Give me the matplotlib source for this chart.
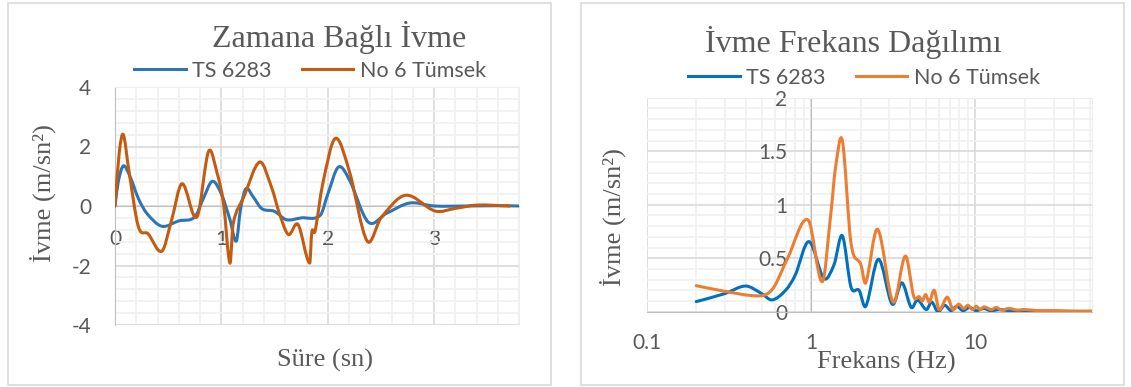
import numpy as np
import matplotlib
matplotlib.use("Agg")
import matplotlib.pyplot as plt
from matplotlib.path import Path
from matplotlib.patches import PathPatch, Rectangle
from matplotlib.lines import Line2D
from matplotlib.ticker import MultipleLocator, FixedLocator, FuncFormatter, LogLocator, NullFormatter

# --- Zamana bağlı ivme (s, m/sn²) ---
t_ts = [0.0, 0.03, 0.078, 0.14, 0.22, 0.3, 0.44, 0.6, 0.75, 0.83, 0.915, 1.0, 1.08, 1.14,
        1.18, 1.23, 1.3, 1.38, 1.5, 1.61, 1.75, 1.93, 2.0, 2.10, 2.2, 2.38, 2.55, 2.77,
        3.0, 3.3, 3.6, 3.8]
a_ts = [0.0, 0.8, 1.35, 1.0, 0.25, -0.25, -0.68, -0.5, -0.37, 0.25, 0.83, 0.4, -0.45, -1.18,
        -0.1, 0.58, 0.3, -0.09, -0.18, -0.46, -0.4, -0.31, 0.4, 1.31, 0.9, -0.54, -0.25, 0.1,
        0.0, 0.0, 0.01, 0.0]

t_no6 = [0.0, 0.04, 0.078, 0.13, 0.22, 0.31, 0.44, 0.53, 0.63, 0.77, 0.88, 0.96, 1.02, 1.08,
         1.11, 1.21, 1.36, 1.47, 1.55, 1.63, 1.72, 1.83, 1.85, 1.88, 1.95, 2.07, 2.2, 2.37,
         2.5, 2.73, 3.01, 3.2, 3.4, 3.71]
a_no6 = [0.0, 1.8, 2.4, 1.2, -0.7, -0.93, -1.52, -0.5, 0.75, -0.37, 1.84, 1.1, 0.08, -1.92,
         -0.6, 0.3, 1.48, 0.64, -0.3, -0.96, -0.62, -1.92, -0.87, -0.85, 0.7, 2.27, 1.2, -1.18,
         -0.4, 0.36, -0.17, -0.08, 0.03, 0.0]

# --- ivme frekans dağılımı (Hz, m/sn²) ---
f_ts = [0.2, 0.3, 0.4, 0.5, 0.58, 0.7, 0.8, 0.97, 1.2, 1.38, 1.55, 1.75, 1.96, 2.15, 2.57,
        3.12, 3.57, 4.07, 4.44, 5.03, 5.42, 5.91, 6.5, 7.1, 7.7, 8.4, 9.2, 10.1, 11.2, 12.4,
        14, 16, 19, 23, 28, 35, 51]
s_ts = [0.094, 0.17, 0.24, 0.17, 0.11, 0.2, 0.34, 0.655, 0.31, 0.44, 0.71, 0.23, 0.2, 0.05,
        0.49, 0.07, 0.27, 0.04, 0.11, 0.02, 0.09, 0.0, 0.06, 0.01, 0.05, 0.01, 0.04, 0.01,
        0.03, 0.01, 0.02, 0.01, 0.01, 0.005, 0.005, 0.003, 0.003]

f_no6 = [0.2, 0.3, 0.44, 0.53, 0.6, 0.72, 0.96, 1.17, 1.32, 1.41, 1.55, 1.75, 2.01, 2.15,
         2.54, 3.16, 3.75, 4.22, 4.55, 4.75, 4.98, 5.24, 5.62, 6.01, 6.74, 7.3, 7.9, 8.5, 9.0,
         9.6, 10.1, 10.7, 11.3, 12.5, 13.4, 14.4, 16, 18, 20, 24, 30, 40, 51]
s_no6 = [0.243, 0.19, 0.15, 0.16, 0.24, 0.5, 0.857, 0.28, 0.92, 1.35, 1.6, 0.64, 0.44, 0.27,
         0.77, 0.09, 0.52, 0.14, 0.14, 0.1, 0.16, 0.09, 0.2, 0.02, 0.135, 0.02, 0.07, 0.03,
         0.06, 0.02, 0.05, 0.02, 0.045, 0.02, 0.04, 0.015, 0.03, 0.015, 0.02, 0.01, 0.01,
         0.005, 0.005]

series_names = ["TS 6283", "No 6 Tümsek"]

SERIF = "Liberation Serif"
SANS = "Lato"
GRAY_TXT = "#595959"
W, H = 1131, 387


def smooth_path(x, y, logx=False):
    """Excel benzeri yumuşak çizgi: noktalardan geçen kübik Bezier."""
    x = np.asarray(x, float)
    y = np.asarray(y, float)
    u = np.log10(x) if logx else x
    n = len(u)
    m = np.zeros(n)
    for i in range(n):
        a, b = max(i - 1, 0), min(i + 1, n - 1)
        m[i] = (y[b] - y[a]) / (u[b] - u[a])
    verts = [(u[0], y[0])]
    codes = [Path.MOVETO]
    for i in range(n - 1):
        h = u[i + 1] - u[i]
        verts += [(u[i] + h / 3, y[i] + m[i] * h / 3),
                  (u[i + 1] - h / 3, y[i + 1] - m[i + 1] * h / 3),
                  (u[i + 1], y[i + 1])]
        codes += [Path.CURVE4] * 3
    verts = np.array(verts)
    if logx:
        verts[:, 0] = 10 ** verts[:, 0]
    return Path(verts, codes)


def add_line(ax, x, y, color, logx=False):
    ax.add_patch(PathPatch(smooth_path(x, y, logx), fill=False, edgecolor=color, lw=2.2,
                           capstyle="round", joinstyle="round", zorder=3))


def px(x, y):
    return x / W, 1 - y / H


fig = plt.figure(figsize=(W / 100, H / 100), dpi=100)

# chart borders
for x0, x1 in [(8, 551), (581, 1124)]:
    fig.patches.append(Rectangle(px(x0, 385), (x1 - x0) / W, 382 / H, transform=fig.transFigure,
                                 fill=False, edgecolor="#D9D9D9", lw=1.2))

# ---------------- sol grafik ----------------
c_blue, c_orange = "#2E75B6", "#C55A11"
ax1 = fig.add_axes([115 / W, 1 - 325 / H, 404.3 / W, 238 / H])
ax1.set_xlim(0, 3.8)
ax1.set_ylim(-4, 4)
ax1.xaxis.set_major_locator(FixedLocator([0, 1, 2, 3]))
ax1.xaxis.set_minor_locator(MultipleLocator(0.2))
ax1.yaxis.set_major_locator(MultipleLocator(2))
ax1.yaxis.set_minor_locator(MultipleLocator(0.4))
ax1.grid(which="minor", color="#F0F0F0", lw=1.2)
ax1.grid(which="major", color="#D9D9D9", lw=1.2)
ax1.set_axisbelow(True)
for s in ["top", "right"]:
    ax1.spines[s].set_color("#EDEDED")
ax1.spines["left"].set_color("#BFBFBF")
ax1.spines["bottom"].set_position(("data", 0))
ax1.spines["bottom"].set_color("#BFBFBF")
ax1.tick_params(which="both", length=0)
ax1.tick_params(axis="y", pad=17, labelsize=15, labelcolor=GRAY_TXT)
ax1.tick_params(axis="x", pad=16.5, labelsize=15, labelcolor=GRAY_TXT)
for lab in ax1.get_xticklabels() + ax1.get_yticklabels():
    lab.set_family(SANS)
ax1.yaxis.set_major_formatter(FuncFormatter(lambda v, p: f"{v:g}"))
ax1.xaxis.set_major_formatter(FuncFormatter(lambda v, p: f"{v:g}"))

add_line(ax1, t_ts, a_ts, c_blue)
add_line(ax1, t_no6, a_no6, c_orange)

fig.text(*px(339, 46.7), "Zamana Bağlı İvme", family=SERIF, size=23, color=GRAY_TXT,
         ha="center", va="baseline")
fig.text(*px(325, 360), "Süre (sn)", family=SERIF, size=19, color=GRAY_TXT, ha="center", va="center")
fig.text(*px(43, 193), "İvme (m/sn²)", family=SERIF, size=19, color=GRAY_TXT, ha="center",
         va="center", rotation=90)
h1 = [Line2D([], [], color=c, lw=2.2) for c in (c_blue, c_orange)]
fig.legend(h1, series_names, loc="center", bbox_to_anchor=px(310, 71), ncol=2, frameon=False,
           prop={"family": SANS, "size": 15.5}, labelcolor=GRAY_TXT, handlelength=2.4,
           handletextpad=0.3, columnspacing=1.4, borderpad=0)

# ---------------- sağ grafik ----------------
c_blue2, c_orange2 = "#0070C0", "#ED7D31"
ax2 = fig.add_axes([646.7 / W, 1 - 311.7 / H, 445 / W, 214 / H])
ax2.set_xscale("log")
ax2.set_xlim(0.1, 51)
ax2.set_ylim(0, 2)
ax2.xaxis.set_major_locator(FixedLocator([0.1, 1, 10]))
ax2.xaxis.set_minor_locator(LogLocator(base=10, subs=np.arange(2, 10)))
ax2.xaxis.set_minor_formatter(NullFormatter())
ax2.yaxis.set_major_locator(MultipleLocator(0.5))
ax2.yaxis.set_minor_locator(MultipleLocator(0.1))
ax2.grid(which="minor", color="#F0F0F0", lw=1.2)
ax2.grid(which="major", color="#D9D9D9", lw=1.2)
ax2.set_axisbelow(True)
for s in ["top", "right"]:
    ax2.spines[s].set_color("#EDEDED")
ax2.spines["left"].set_position(("data", 1))
ax2.spines["left"].set_color("#BFBFBF")
ax2.spines["bottom"].set_color("#BFBFBF")
ax2.tick_params(which="both", length=0)
ax2.tick_params(axis="y", pad=17, labelsize=15, labelcolor=GRAY_TXT)
ax2.tick_params(axis="x", pad=15.5, labelsize=15, labelcolor=GRAY_TXT)
ax2.yaxis.set_major_formatter(FuncFormatter(lambda v, p: f"{v:g}"))
ax2.xaxis.set_major_formatter(FuncFormatter(lambda v, p: f"{v:g}"))
for lab in ax2.get_xticklabels() + ax2.get_yticklabels():
    lab.set_family(SANS)

add_line(ax2, f_ts, s_ts, c_blue2, logx=True)
add_line(ax2, f_no6, s_no6, c_orange2, logx=True)

fig.text(*px(853, 51.7), "İvme Frekans Dağılımı", family=SERIF, size=23, color=GRAY_TXT,
         ha="center", va="baseline")
fig.text(*px(886, 362), "Frekans (Hz)", family=SERIF, size=19, color=GRAY_TXT, ha="center", va="center")
fig.text(*px(613, 217), "İvme (m/sn²)", family=SERIF, size=19, color=GRAY_TXT, ha="center",
         va="center", rotation=90)
h2 = [Line2D([], [], color=c, lw=2.2) for c in (c_blue2, c_orange2)]
fig.legend(h2, series_names, loc="center", bbox_to_anchor=px(864, 78), ncol=2, frameon=False,
           prop={"family": SANS, "size": 15.5}, labelcolor=GRAY_TXT, handlelength=2.4,
           handletextpad=0.3, columnspacing=1.4, borderpad=0)

fig.savefig("out.png", dpi=100)
